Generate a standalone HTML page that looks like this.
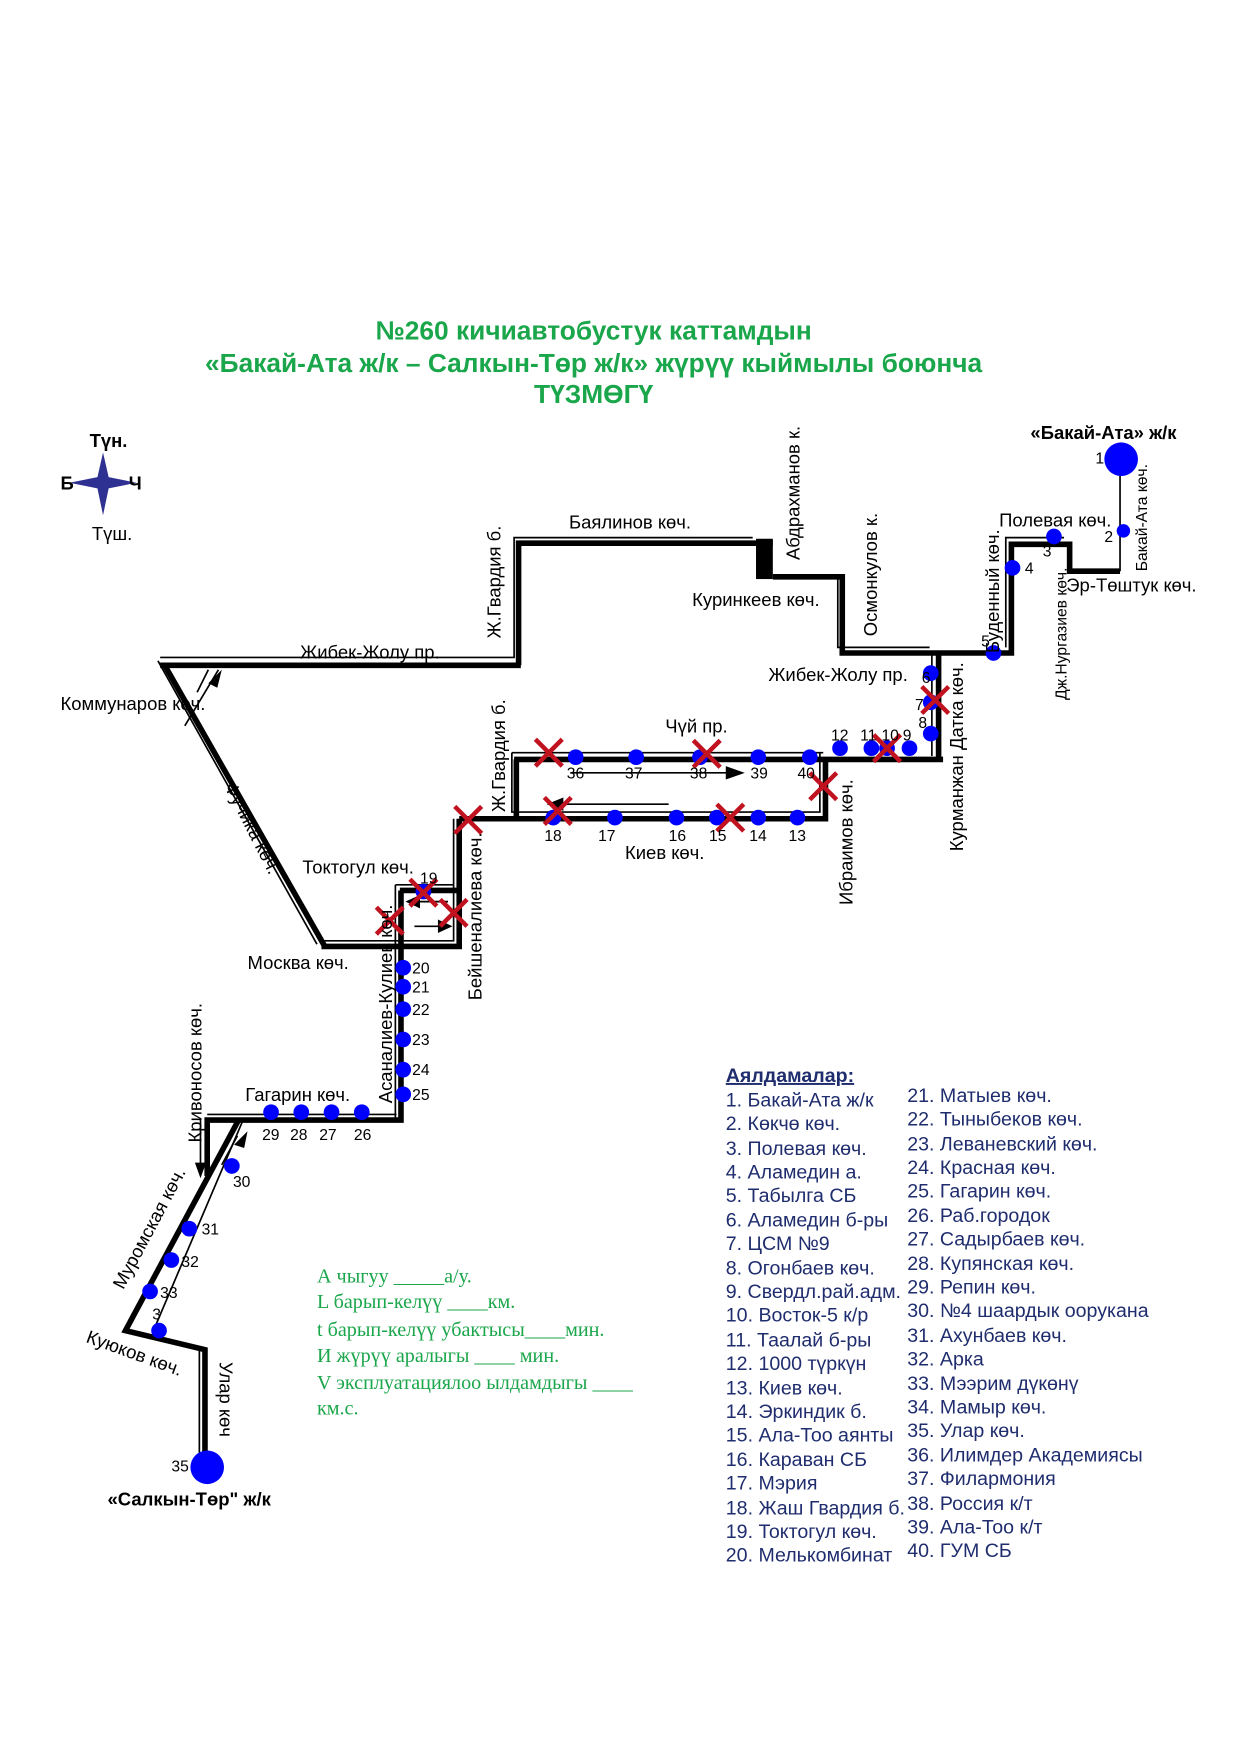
<!DOCTYPE html>
<html><head><meta charset="utf-8"><style>
html,body{margin:0;padding:0;background:#fff}
svg{display:block}
text{font-family:"Liberation Sans",sans-serif;font-size:16.5px;fill:#000}
text.t{font-weight:bold;fill:#1aa64a;font-size:23.5px}
.g text{font-family:"Liberation Serif",serif;fill:#1aa64a;font-size:18px}
.l text, text.l{fill:#1f2d6e;font-size:17.5px}
.s text{font-size:14px}
</style></head><body>
<svg width="1241" height="1754" viewBox="0 0 1108 1566" preserveAspectRatio="none" xmlns="http://www.w3.org/2000/svg">
<text class="t" x="530" y="303" text-anchor="middle">№260 кичиавтобустук каттамдын</text>
<text class="t" x="530" y="332" text-anchor="middle">«Бакай-Ата ж/к – Салкын-Төр ж/к» жүрүү кыймылы  боюнча</text>
<text class="t" x="530" y="360" text-anchor="middle">ТҮЗМӨГҮ</text>
<text x="80" y="399" style="font-weight:bold">Түн.</text>
<polygon points="92,404 97,426 122,431 97,436 92,460 87,436 62,431 87,426" fill="#2e3192"/>
<text x="54" y="437" style="font-weight:bold">Б</text><text x="115" y="437" style="font-weight:bold">Ч</text>
<text x="82" y="482">Түш.</text>
<g stroke="#000" fill="none">
<g stroke-width="5">
<polyline points="143,594 465,594"/>
<polyline points="463,594 463,485 690,485"/>
<rect x="675" y="481" width="15" height="36" fill="#000" stroke-width="0"/>
<polyline points="690,515 752,515 752,583 903,583 903,486 955,486 955,510 1000,510"/>
<line x1="838" y1="581" x2="838" y2="680"/>
<polyline points="459,678 842,678"/>
<polyline points="410,731 737,731 737,678"/>
<line x1="461" y1="678" x2="461" y2="731"/>
<polyline points="410,731 410,845 287,845"/>
<polyline points="357,795 410,795"/>
<polyline points="147,594 290,845"/>
<polyline points="358,795 358,1000 185,1000 185,1050"/>
<polyline points="213,1000 112,1188 183,1205 183,1308"/>
</g>
<g stroke-width="1.5">
<polyline points="143,587 459,587 459,480 672,480"/>
<polyline points="748,515 748,578 830,578"/>
<polyline points="898,578 898,480 950,480"/>
<line x1="1000" y1="410" x2="1000" y2="510"/>
<line x1="832" y1="585" x2="832" y2="675"/>
<polyline points="457,672 735,672"/>
<polyline points="457,672 457,725 732,725 732,672"/>
<polyline points="405,731 405,840 288,840"/>
<polyline points="353,790 405,790"/>
<line x1="353" y1="790" x2="353" y2="1000"/>
<line x1="141" y1="590" x2="283" y2="843"/>
<polyline points="185,995 354,995"/>
<line x1="179" y1="1000" x2="179" y2="1040"/>
<line x1="217" y1="1000" x2="137" y2="1188"/>
<line x1="178" y1="1205" x2="178" y2="1308"/>
<line x1="195" y1="598" x2="165" y2="648"/>
<line x1="510" y1="690" x2="650" y2="690"/>
<line x1="500" y1="718" x2="597" y2="718"/>
<line x1="365" y1="805" x2="400" y2="805"/>
<line x1="370" y1="827" x2="402" y2="827"/>
<line x1="212" y1="1014" x2="198" y2="1040"/>
<line x1="186" y1="598" x2="176" y2="618"/>
</g>
<g fill="#000" stroke="none">
<polygon points="198,598 186,610 194,614"/>
<polygon points="665,690 648,684 648,696"/>
<polygon points="488,718 503,712 503,724"/>
<polygon points="362,805 375,799 375,811"/>
<polygon points="404,827 391,821 391,833"/>
<polygon points="179,1052 174,1038 184,1038"/>
<polygon points="221,1010 209,1022 218,1025"/>
</g>
</g>
<g fill="#0000ff">
<circle cx="1001" cy="410" r="15"/><circle cx="185" cy="1310" r="15"/>
<circle cx="514" cy="676" r="7"/><circle cx="568" cy="676" r="7"/><circle cx="625" cy="676" r="7"/><circle cx="677" cy="676" r="7"/><circle cx="723" cy="676" r="7"/>
<circle cx="750" cy="668" r="7"/><circle cx="778" cy="668" r="7"/><circle cx="792" cy="668" r="7"/><circle cx="812" cy="668" r="7"/>
<circle cx="831" cy="655" r="7"/><circle cx="831" cy="627" r="7"/><circle cx="831" cy="601" r="7"/><circle cx="887" cy="583" r="7"/><circle cx="904" cy="507" r="7"/><circle cx="941" cy="479" r="7"/><circle cx="1003" cy="474" r="6"/>
<circle cx="494" cy="730" r="7"/><circle cx="549" cy="730" r="7"/><circle cx="604" cy="730" r="7"/><circle cx="640" cy="730" r="7"/><circle cx="677" cy="730" r="7"/><circle cx="712" cy="730" r="7"/>
<circle cx="378" cy="796" r="7"/>
<circle cx="360" cy="864" r="7"/><circle cx="360" cy="881" r="7"/><circle cx="360" cy="901" r="7"/><circle cx="360" cy="928" r="7"/><circle cx="360" cy="955" r="7"/><circle cx="360" cy="977" r="7"/>
<circle cx="323" cy="993" r="7"/><circle cx="296" cy="993" r="7"/><circle cx="269" cy="993" r="7"/><circle cx="242" cy="993" r="7"/>
<circle cx="207" cy="1041" r="7"/><circle cx="169" cy="1097" r="7"/><circle cx="153" cy="1125" r="7"/><circle cx="134" cy="1153" r="7"/><circle cx="142" cy="1188" r="7"/>
</g>
<g stroke="#c1121f" stroke-width="4">
<path d="M478,660l24,24M502,660l-24,24"/><path d="M619,661l24,24M643,661l-24,24"/><path d="M780,656l24,24M804,656l-24,24"/>
<path d="M823,613l24,24M847,613l-24,24"/><path d="M486,712l24,24M510,712l-24,24"/><path d="M640,718l24,24M664,718l-24,24"/>
<path d="M723,690l24,24M747,690l-24,24"/><path d="M406,720l24,24M430,720l-24,24"/><path d="M366,785l24,24M390,785l-24,24"/>
<path d="M393,803l24,24M417,803l-24,24"/><path d="M336,810l24,24M360,810l-24,24"/>
</g>
<g class="s">
<text x="978" y="414">1</text><text x="986" y="484">2</text><text x="931" y="497">3</text><text x="915" y="512">4</text>
<text x="506" y="695">36</text><text x="558" y="695">37</text><text x="616" y="695">38</text><text x="670" y="695">39</text><text x="712" y="695">40</text>
<text x="742" y="661">12</text><text x="768" y="661">11</text><text x="787" y="661">10</text><text x="806" y="661">9</text>
<text x="820" y="650">8</text><text x="817" y="634">7</text><text x="823" y="610">6</text><text x="876" y="577">5</text>
<text x="486" y="751">18</text><text x="534" y="751">17</text><text x="597" y="751">16</text><text x="633" y="751">15</text><text x="669" y="751">14</text><text x="704" y="751">13</text>
<text x="375" y="789">19</text>
<text x="368" y="869">20</text><text x="368" y="886">21</text><text x="368" y="906">22</text><text x="368" y="933">23</text><text x="368" y="960">24</text><text x="368" y="982">25</text>
<text x="316" y="1018">26</text><text x="285" y="1018">27</text><text x="259" y="1018">28</text><text x="234" y="1018">29</text>
<text x="208" y="1060">30</text><text x="180" y="1102">31</text><text x="162" y="1131">32</text><text x="143" y="1159">33</text><text x="136" y="1178">3</text>
<text x="153" y="1314">35</text>
</g>
<text x="920" y="392" style="font-weight:bold">«Бакай-Ата» ж/к</text>
<text x="96" y="1344" style="font-weight:bold">«Салкын-Төр" ж/к</text>
<text x="508" y="472">Баялинов көч.</text>
<text x="268" y="588">Жибек-Жолу пр.</text>
<text x="54" y="634">Коммунаров көч.</text>
<text x="618" y="541">Куринкеев көч.</text>
<text x="686" y="608">Жибек-Жолу пр.</text>
<text x="892" y="470">Полевая көч.</text>
<text x="952" y="528">Эр-Төштук көч.</text>
<text x="594" y="654">Чүй пр.</text>
<text x="558" y="767">Киев көч.</text>
<text x="270" y="780">Токтогул көч.</text>
<text x="221" y="865">Москва көч.</text>
<text x="219" y="983">Гагарин көч.</text>
<text transform="translate(447,570) rotate(-90)">Ж.Гвардия б.</text>
<text transform="translate(714,500) rotate(-90)">Абдрахманов к.</text>
<text transform="translate(783,568) rotate(-90)">Осмонкулов к.</text>
<text transform="translate(892,583) rotate(-90)">Буденный  көч.</text>
<text transform="translate(952,625) rotate(-90)" style="font-size:14px">Дж.Нургазиев көч.</text>
<text transform="translate(1024,510) rotate(-90)" style="font-size:14px">Бакай-Ата көч.</text>
<text transform="translate(860,760) rotate(-90)">Курманжан Датка көч.</text>
<text transform="translate(451,725) rotate(-90)">Ж.Гвардия б.</text>
<text transform="translate(761,808) rotate(-90)">Ибраимов көч.</text>
<text transform="translate(430,893) rotate(-90)">Бейшеналиева көч.</text>
<text transform="translate(350,985) rotate(-90)">Асаналиев-Кулиев көч.</text>
<text transform="translate(180,1020) rotate(-90)">Кривоносов көч.</text>
<text transform="translate(200,702) rotate(63)">Фучика көч.</text>
<text transform="translate(110,1152) rotate(-62)">Муромская көч.</text>
<text transform="translate(76,1198) rotate(20)">Куюков көч.</text>
<text transform="translate(196,1216) rotate(90)">Улар көч</text>
<g class="g">
<text x="283" y="1145">А чыгуу    _____а/у.</text>
<text x="283" y="1168">L барып-келүү ____км.</text>
<text x="283" y="1193">t барып-келүү убактысы____мин.</text>
<text x="283" y="1216">И жүрүү аралыгы ____     мин.</text>
<text x="283" y="1240">V эксплуатациялоо ылдамдыгы ____</text>
<text x="283" y="1263">км.с.</text>
</g>
<text class="l" x="648" y="966" style="font-weight:bold;text-decoration:underline">Аялдамалар:</text>
<g class="l">
<text x="648" y="988">1. Бакай-Ата ж/к</text><text x="648" y="1009">2. Көкчө көч.</text><text x="648" y="1031">3. Полевая көч.</text><text x="648" y="1052">4. Аламедин а.</text><text x="648" y="1073">5. Табылга СБ</text>
<text x="648" y="1095">6. Аламедин б-ры</text><text x="648" y="1116">7. ЦСМ №9</text><text x="648" y="1138">8. Огонбаев көч.</text><text x="648" y="1159">9. Свердл.рай.адм.</text><text x="648" y="1180">10. Восток-5 к/р</text>
<text x="648" y="1202">11. Таалай б-ры</text><text x="648" y="1223">12. 1000 түркүн</text><text x="648" y="1245">13. Киев көч.</text><text x="648" y="1266">14. Эркиндик б.</text><text x="648" y="1287">15. Ала-Тоо аянты</text>
<text x="648" y="1309">16. Караван СБ</text><text x="648" y="1330">17. Мэрия</text><text x="648" y="1352">18. Жаш Гвардия б.</text><text x="648" y="1373">19. Токтогул көч.</text><text x="648" y="1394">20. Мелькомбинат</text>
<text x="810" y="984">21. Матыев көч.</text><text x="810" y="1005">22. Тыныбеков көч.</text><text x="810" y="1027">23. Леваневский көч.</text><text x="810" y="1048">24. Красная көч.</text><text x="810" y="1069">25. Гагарин көч.</text>
<text x="810" y="1091">26. Раб.городок</text><text x="810" y="1112">27. Садырбаев көч.</text><text x="810" y="1134">28. Купянская көч.</text><text x="810" y="1155">29. Репин көч.</text><text x="810" y="1176">30. №4 шаардык оорукана</text>
<text x="810" y="1198">31. Ахунбаев көч.</text><text x="810" y="1219">32. Арка</text><text x="810" y="1241">33. Мээрим дүкөнү</text><text x="810" y="1262">34. Мамыр көч.</text><text x="810" y="1283">35. Улар көч.</text>
<text x="810" y="1305">36. Илимдер Академиясы</text><text x="810" y="1326">37. Филармония</text><text x="810" y="1348">38. Россия к/т</text><text x="810" y="1369">39. Ала-Тоо к/т</text><text x="810" y="1390">40. ГУМ СБ</text>
</g>
</svg>
</body></html>
